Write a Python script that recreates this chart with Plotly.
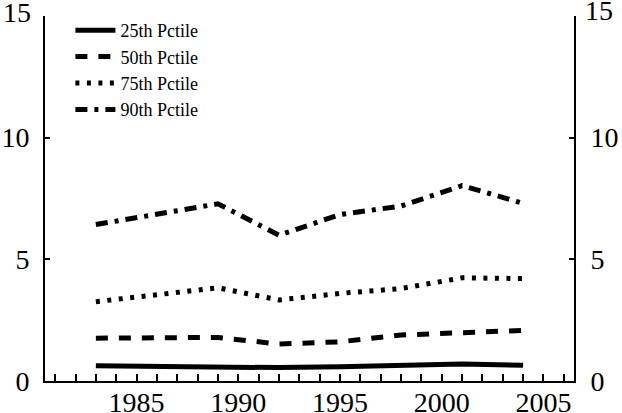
import plotly.graph_objects as go

# Survey years and percentile series
years = [1983, 1989, 1992, 1995, 1998, 2001, 2004]
p25 = [0.63, 0.56, 0.55, 0.59, 0.62, 0.70, 0.65]
p50 = [1.76, 1.79, 1.52, 1.61, 1.89, 1.98, 2.08]
p75 = [3.26, 3.83, 3.33, 3.60, 3.80, 4.24, 4.21]
p90 = [6.43, 7.28, 5.99, 6.84, 7.19, 8.03, 7.30]

series_names = ["25th Pctile", "50th Pctile", "75th Pctile", "90th Pctile"]
series_values = [p25, p50, p75, p90]
dash_styles = ["solid", "12px,11px", "4px,7.5px", "12px,7px,4px,7px"]

x_ticks = [1985, 1990, 1995, 2000, 2005]
y_ticks = [0, 5, 10, 15]

FONT = "Liberation Serif"
TICK_SIZE = 28
Y_TOP = y_ticks[-1]

fig = go.Figure()
for name, vals, dash in zip(series_names, series_values, dash_styles):
    fig.add_trace(go.Scatter(
        x=years, y=vals, name=name, mode="lines",
        line=dict(color="black", width=5, dash=dash),
    ))

# invisible companion trace so the right-hand axis is drawn
fig.add_trace(go.Scatter(
    x=years, y=p25, yaxis="y2", mode="lines", showlegend=False,
    line=dict(color="rgba(0,0,0,0)", width=0), hoverinfo="skip",
))

# the top label sits at the very edge of the page, so it is written as an
# annotation and the axis keeps only its tick mark there
y_text = [str(v) if v != Y_TOP else "" for v in y_ticks]

y_common = dict(
    range=[0, Y_TOP], tickvals=y_ticks, ticktext=y_text,
    ticks="inside", ticklen=5,
    tickwidth=1.5, tickcolor="black", showline=True, linecolor="black",
    linewidth=2, showgrid=False, zeroline=False, automargin=False,
    tickfont=dict(family=FONT, size=TICK_SIZE),
)

LEFT_STANDOFF = 8
RIGHT_STANDOFF = 9

fig.update_layout(
    width=622, height=413,
    margin=dict(l=45, r=48, t=13, b=32),
    paper_bgcolor="white", plot_bgcolor="white",
    font=dict(family=FONT, color="black", size=TICK_SIZE),
    showlegend=True,
    legend=dict(
        x=0.048, y=1.011, xanchor="left", yanchor="top",
        bgcolor="rgba(0,0,0,0)", font=dict(family=FONT, size=18),
        tracegroupgap=0, itemwidth=40,
    ),
    xaxis=dict(
        range=[1980.5, 2006.5], tickvals=x_ticks, ticks="inside", ticklen=7,
        tickwidth=1.5, tickcolor="black", showline=True, linecolor="black",
        linewidth=2, showgrid=False, zeroline=False, automargin=False,
        minor=dict(dtick=1, tick0=1980, ticks="inside", ticklen=7,
                   tickwidth=1.5, tickcolor="black", showgrid=False),
        tickfont=dict(family=FONT, size=TICK_SIZE), ticklabelstandoff=-5,
    ),
    yaxis=dict(**y_common, ticklabelstandoff=LEFT_STANDOFF),
    yaxis2=dict(**y_common, overlaying="y", side="right",
                ticklabelstandoff=RIGHT_STANDOFF),
    annotations=[
        dict(text=str(Y_TOP), x=0, xref="paper", y=Y_TOP, yref="y",
             xanchor="right", yanchor="middle", showarrow=False,
             xshift=-(LEFT_STANDOFF + 4), yshift=4,
             font=dict(family=FONT, size=TICK_SIZE)),
        dict(text=str(Y_TOP), x=1, xref="paper", y=Y_TOP, yref="y",
             xanchor="left", yanchor="middle", showarrow=False,
             xshift=RIGHT_STANDOFF, yshift=6,
             font=dict(family=FONT, size=TICK_SIZE)),
    ],
)

fig.write_html("out.html")
